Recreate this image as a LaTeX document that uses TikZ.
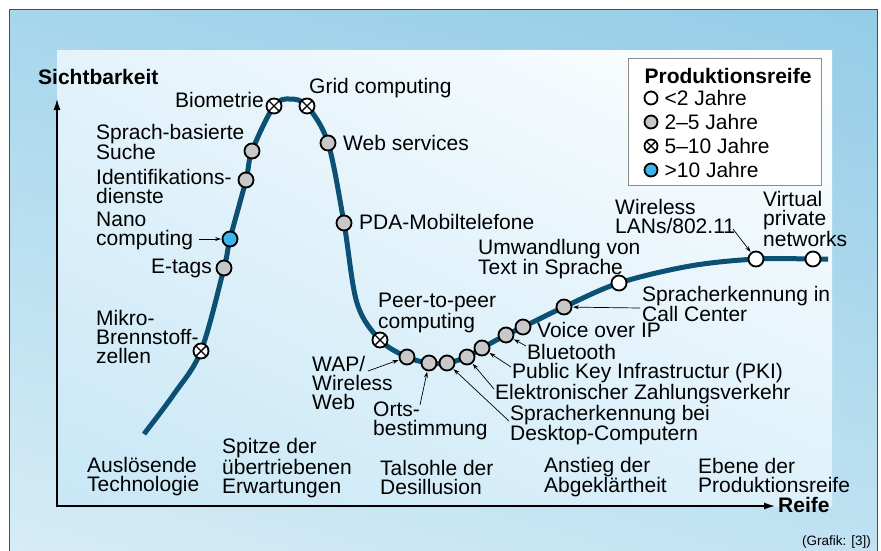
\documentclass[tikz,border=0pt]{standalone}
\usepackage{fontspec}
\setmainfont{Liberation Sans}
\usepackage{tikz}
\usetikzlibrary{arrows.meta, positioning, backgrounds, calc, shadings}
\definecolor{frameUR}{RGB}{148,204,230}
\definecolor{frameUL}{RGB}{166,214,236}
\definecolor{frameLL}{RGB}{214,236,246}
\definecolor{frameLR}{RGB}{192,226,242}
\definecolor{panelUL}{RGB}{228,243,251}
\definecolor{panelLL}{RGB}{200,231,246}
\definecolor{panelLR}{RGB}{222,241,250}
\definecolor{curveBlue}{RGB}{12,80,115}
\definecolor{dotBlue}{RGB}{62,180,235}
\definecolor{dotGray}{RGB}{200,200,200}
\pgfdeclarelayer{background}
\pgfdeclarelayer{curve}
\pgfsetlayers{background,curve,main}

\begin{document}
\begin{tikzpicture}[x=1pt, y=-1pt]

    % Font
    \fontsize{21}{19}\selectfont

    % Dots on the curve
    \tikzset{dS/.style={draw, circle, line width=1.8pt, inner sep=0pt, minimum size=15pt}}
    \tikzset{dW/.style={dS, fill=white}}
    \tikzset{dG/.style={dS, fill=dotGray}}
    \tikzset{dB/.style={dS, fill=dotBlue}}
    \tikzset{dX/.style={dS, fill=white, path picture={
        \draw[line width=1.4pt] (path picture bounding box.north west) -- (path picture bounding box.south east)
                                (path picture bounding box.north east) -- (path picture bounding box.south west);}}}

    % Labels and leaders
    \tikzset{lab/.style={inner sep=0pt, align=left}}
    \tikzset{lead/.style={-{Stealth[length=6pt, width=4pt]}, line width=0.7pt, shorten >=0.5pt}}
    \tikzset{axis/.style={{Latex[length=11pt, width=7pt]}-{Latex[length=11pt, width=7pt]}, line width=1.3pt}}

    \useasboundingbox (0,0) rectangle (881,550);

    % Curve nodes
    \node (mikro) [dX] at (201,351) {};
    \node (etags) [dG] at (224,268) {};
    \node (nano) [dB] at (230,239) {};
    \node (ident) [dG] at (246,180) {};
    \node (sprach) [dG] at (252,151) {};
    \node (bio) [dX] at (274,106) {};
    \node (grid) [dX] at (307,106) {};
    \node (web) [dG] at (328,143) {};
    \node (pda) [dG] at (344,223) {};
    \node (peer) [dX] at (380,340) {};
    \node (wap) [dG] at (407,357) {};
    \node (orts) [dG] at (429,363) {};
    \node (sdesk) [dG] at (447,363) {};
    \node (ezahl) [dG] at (467,357) {};
    \node (pki) [dG] at (482,348) {};
    \node (blue) [dG] at (506,335) {};
    \node (voip) [dG] at (523,327) {};
    \node (scall) [dG] at (564,307) {};
    \node (tts) [dW] at (619,283) {};
    \node (wlan) [dW] at (756,259) {};
    \node (vpn) [dW] at (813,259) {};

    % Curve labels
    \node (tBio) [lab, anchor=east] at (264,100) {Biometrie};
    \node (tGrid) [lab, anchor=west] at (309,88) {Grid computing};
    \node (tSprach) [lab, anchor=west] at (96,142) {Sprach-basierte\\Suche};
    \node (tIdent) [lab, anchor=west] at (96,186) {Identifikations-\\dienste};
    \node (tNano) [lab, anchor=west] at (96,231) {Nano\\computing};
    \node (tEtags) [lab, anchor=east] at (212,268) {E-tags};
    \node (tMikro) [lab, anchor=west] at (96,337) {Mikro-\\Brennstoff-\\zellen};
    \node (tWeb) [lab, anchor=west] at (343,143) {Web services};
    \node (tPda) [lab, anchor=west] at (359,222) {PDA-Mobiltelefone};
    \node (tPeer) [lab, anchor=west] at (378,313) {Peer-to-peer\\computing};
    \node (tWap) [lab, anchor=west] at (312,383) {WAP/\\Wireless\\Web};
    \node (tOrts) [lab, anchor=west] at (373,421) {Orts-\\bestimmung};
    \node (tSdesk) [lab, anchor=west] at (510,425) {Spracherkennung bei\\Desktop-Computern};
    \node (tEzahl) [lab, anchor=west] at (495,394) {Elektronischer Zahlungsverkehr};
    \node (tPki) [lab, anchor=west] at (512,373) {Public Key Infrastructur (PKI)};
    \node (tBlue) [lab, anchor=west] at (527,352) {Bluetooth};
    \node (tVoip) [lab, anchor=west] at (537,330) {Voice over IP};
    \node (tScall) [lab, anchor=west] at (642,304) {Spracherkennung in\\Call Center};
    \node (tTts) [lab, anchor=west] at (478,259) {Umwandlung von\\Text in Sprache};
    \node (tWlan) [lab, anchor=west] at (615,216) {Wireless\\LANs/802.11};
    \node (tVpn) [lab, anchor=west] at (763,219) {Virtual\\private\\networks};

    % Leader start points
    \coordinate (aNano) at (199,239);
    \coordinate (aWap) at (368,371);
    \coordinate (aOrts) at (420,405);
    \coordinate (aSdesk) at (509,421);
    \coordinate (aEzahl) at (494,389);
    \coordinate (aPki) at (511,367);
    \coordinate (aBlue) at (526,346);
    \coordinate (aScall) at (640,308);
    \coordinate (aWlan) at (733,229);

    \draw[lead] (aNano) -- (nano);
    \draw[lead] (aWap) -- (wap);
    \draw[lead] (aOrts) -- (orts);
    \draw[lead] (aSdesk) -- (sdesk);
    \draw[lead] (aEzahl) -- (ezahl);
    \draw[lead] (aPki) -- (pki);
    \draw[lead] (aBlue) -- (blue);
    \draw[lead] (aScall) -- (scall);
    \draw[lead] (aWlan) -- (wlan);

    % Phases
    \node (p1) [lab, anchor=west] at (87,477) {Auslösende\\Technologie};
    \node (p2) [lab, anchor=west] at (222,468) {Spitze der\\übertriebenen\\Erwartungen};
    \node (p3) [lab, anchor=west] at (380,477) {Talsohle der\\Desillusion};
    \node (p4) [lab, anchor=west] at (544,477) {Anstieg der\\Abgeklärtheit};
    \node (p5) [lab, anchor=west] at (698,475) {Ebene der\\Produktionsreife};

    % Axes
    \coordinate (yTop) at (57,99);
    \coordinate (o) at (57,506);
    \coordinate (xEnd) at (775,506);
    \draw[axis] (yTop) -- (o) -- (xEnd);
    \node (ySich) [lab, font=\bfseries, anchor=west] at (38,77) {Sichtbarkeit};
    \node (xReife) [lab, font=\bfseries, anchor=west] at (778,505) {Reife};

    % Legend
    \node (leg) [draw=black!45, line width=0.8pt, fill=white, minimum width=193pt, minimum height=127pt, anchor=north west, inner sep=0pt] at (628,58) {};
    \node (legT) [lab, font=\bfseries] at (728,76) {Produktionsreife};
    \node (l1) [dW, minimum size=13pt] at (651,98) {};
    \node (l2) [dG, minimum size=13pt] at (651,122) {};
    \node (l3) [dX, minimum size=13pt] at (651,146) {};
    \node (l4) [dB, minimum size=13pt] at (651,170) {};
    \node (tl1) [lab, right=6pt of l1] {<2 Jahre};
    \node (tl2) [lab, right=6pt of l2] {2–5 Jahre};
    \node (tl3) [lab, right=6pt of l3] {5–10 Jahre};
    \node (tl4) [lab, right=6pt of l4] {>10 Jahre};

    % Credit
    \node (cred) [lab, anchor=east, font=\fontsize{13.5}{15}\selectfont] at (871,542) {(Grafik: [3])};

    % Background image
    \begin{pgfonlayer}{background}
        \fill[white] (0,0) rectangle (881,550);
        \shade[upper left=frameUL, upper right=frameUR, lower left=frameLL, lower right=frameLR] (9,9) rectangle (877,551);
        \draw[line width=1pt, black!70] (9,551) -- (9,9) -- (877,9) -- (877,551);
        \shade[upper left=panelUL, upper right=white, lower left=panelLL, lower right=panelLR] (57,50) rectangle (832,506);
    \end{pgfonlayer}

    % Curve
    \begin{pgfonlayer}{curve}
        \draw[curveBlue, line width=5pt, line cap=butt] plot[smooth, tension=0.55] coordinates {
            (144,434) (174,394) (mikro.center) (etags.center) (nano.center) (ident.center)
            (sprach.center) (bio.center) (290,99) (grid.center) (web.center) (pda.center) (357,303)
            (peer.center) (wap.center) (orts.center) (sdesk.center) (ezahl.center) (pki.center)
            (blue.center) (voip.center) (scall.center) (tts.center) (690,266) (wlan.center)
            (vpn.center) (828,259)};
    \end{pgfonlayer}

\end{tikzpicture}
\end{document}
